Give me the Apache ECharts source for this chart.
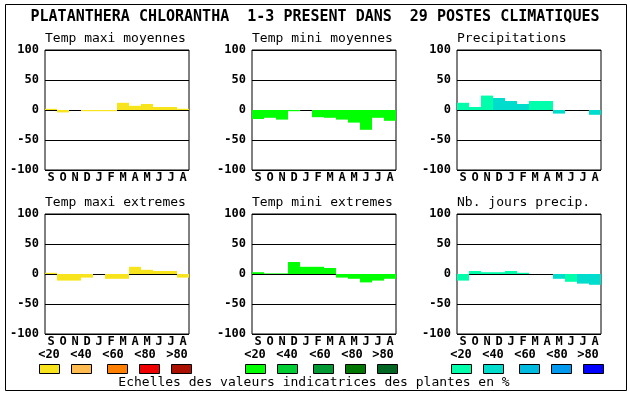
<!DOCTYPE html>
<html><head><meta charset="utf-8">
<script src="https://cdn.jsdelivr.net/npm/echarts@6/dist/echarts.min.js"></script>
<style>html,body{margin:0;padding:0;background:#fff}#c{width:630px;height:394px}</style>
</head><body><div id="c"></div>
<script>
const months = ['S','O','N','D','J','F','M','A','M','J','J','A'];
const yTicks = [-100,-50,0,50,100];
const mainTitle = 'PLATANTHERA CHLORANTHA  1-3 PRESENT DANS  29 POSTES CLIMATIQUES';
const footer = 'Echelles des valeurs indicatrices des plantes en %';
const classLabels = ['<20','<40','<60','<80','>80'];

const panelTitles = ['Temp maxi moyennes','Temp mini moyennes','Precipitations','Temp maxi extremes','Temp mini extremes','Nb. jours precip.'];

const tMaxMoy = [2,-4,0,-2,-2,-2,12,7,10,5,5,2];
const tMinMoy = [-15,-13,-16,-2,0,-12,-13,-16,-21,-33,-13,-18];
const precip  = [12,5,24,20,15,10,15,15,-6,0,0,-8];
const tMaxExt = [2,-11,-11,-6,0,-8,-8,12,7,5,5,-6];
const tMinExt = [3,1,1,20,12,12,10,-6,-8,-14,-11,-8];
const nbJours = [-11,5,3,3,5,2,0,0,-8,-13,-16,-18];

// colour class (0 = <20, 1 = <40, ...) of each bar
const tMaxMoyClass = [0,0,0,0,0,0,0,0,0,0,0,0];
const tMinMoyClass = [0,0,0,0,0,0,0,0,0,0,0,0];
const precipClass  = [0,0,0,1,1,1,0,0,1,0,0,1];
const tMaxExtClass = [0,0,0,0,0,0,0,0,0,0,0,0];
const tMinExtClass = [0,0,0,0,0,0,0,0,0,0,0,0];
const nbJoursClass = [0,0,0,0,0,0,0,0,1,0,1,1];

const warmPalette  = ['#F8E41C','#FFBB50','#FF8000','#EE0000','#AA1100'];
const greenPalette = ['#00FF00','#00CC33','#009933','#007700','#006622'];
const bluePalette  = ['#00FFAA','#00DDCC','#00BBE0','#0099EE','#0000FF'];

const panels = [
  {vals:tMaxMoy, cls:tMaxMoyClass, pal:warmPalette,  left:45,  top:50},
  {vals:tMinMoy, cls:tMinMoyClass, pal:greenPalette, left:252, top:50},
  {vals:precip,  cls:precipClass,  pal:bluePalette,  left:457, top:50},
  {vals:tMaxExt, cls:tMaxExtClass, pal:warmPalette,  left:45,  top:214},
  {vals:tMinExt, cls:tMinExtClass, pal:greenPalette, left:252, top:214},
  {vals:nbJours, cls:nbJoursClass, pal:bluePalette,  left:457, top:214}
];
const GW = 144, GH = 120;
const mono = "'DejaVu Sans Mono', 'Liberation Mono', monospace";

const grid = [], xAxis = [], yAxis = [], series = [], titles = [], graphic = [];

titles.push({text: mainTitle, left: 'center', top: 10, padding:0,
  textStyle:{fontFamily:mono, fontWeight:'bold', fontSize:15, color:'#000'}});

panels.forEach((p,i)=>{
  grid.push({left:p.left, top:p.top, width:GW, height:GH, show:true,
    borderColor:'#000', borderWidth:1, backgroundColor:'#fff', containLabel:false});
  xAxis.push({type:'category', gridIndex:i, data:months, position:'bottom',
    axisLine:{show:false, onZero:false}, axisTick:{show:false},
    axisLabel:{margin:2, fontFamily:mono, fontWeight:'bold', fontSize:12, color:'#000', interval:0},
    splitLine:{show:false}, boundaryGap:true});
  yAxis.push({type:'value', gridIndex:i, min:yTicks[0], max:yTicks[yTicks.length-1], interval:50,
    axisLine:{show:false}, axisTick:{show:false},
    axisLabel:{margin:6, fontFamily:mono, fontWeight:'bold', fontSize:12, color:'#000'},
    splitLine:{show:true, lineStyle:{color:'#000', width:1}}});
  series.push({type:'bar', xAxisIndex:i, yAxisIndex:i, barWidth:'100%', barCategoryGap:'0%',
    z:1, silent:true,
    data:p.vals.map((v,k)=>({value:v, itemStyle:{color:p.pal[p.cls[k]]}}))});
  titles.push({text:panelTitles[i], left:p.left, top:p.top-18, padding:0,
    textStyle:{fontFamily:mono, fontWeight:'normal', fontSize:13, color:'#000'}});
});

// legends under bottom row
const legendRows = [
  {pal:warmPalette,  boxes:[39,71,107,139,171], labels:[49,81,113,145,177]},
  {pal:greenPalette, boxes:[245,277,313,345,377], labels:[255,287,320,352,383]},
  {pal:bluePalette,  boxes:[451,483,519,551,583], labels:[461,493,525,557,588]}
];
legendRows.forEach(r=>{
  r.pal.forEach((c,k)=>{
    graphic.push({type:'rect', shape:{x:r.boxes[k]+0.5, y:364.5, width:20, height:9},
      style:{fill:c, stroke:'#000', lineWidth:1}});
    graphic.push({type:'text', x:r.labels[k], y:355,
      style:{text:classLabels[k], font:"bold 12px "+mono, fill:'#000', textAlign:'center', textVerticalAlign:'middle'}});
  });
});
graphic.push({type:'text', x:314, y:383,
  style:{text:footer, font:"13px "+mono, fill:'#000', textAlign:'center', textVerticalAlign:'middle'}});
graphic.push({type:'rect', shape:{x:5.5, y:4.5, width:621, height:386},
  style:{fill:'none', stroke:'#000', lineWidth:1}});

const chart = echarts.init(document.getElementById('c'), null, {renderer:'canvas'});
chart.setOption({animation:false, backgroundColor:'#fff', title:titles, grid, xAxis, yAxis, series, graphic});
</script></body></html>
